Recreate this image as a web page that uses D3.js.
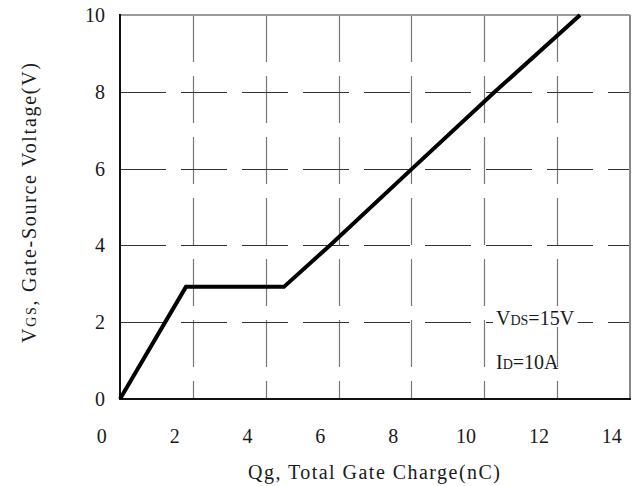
<!DOCTYPE html>
<html lang="en">
<head>
<meta charset="UTF-8">
<title>Gate Charge</title>
<script src="https://d3js.org/d3.v7.min.js"></script>
<style>
  body { margin: 0; background: #fff; }
  text { font-family: "Liberation Serif", "Times New Roman", serif; fill: #1a1a1a; }
</style>
</head>
<body>
<svg width="633" height="486"></svg>
<script>
// gate charge curve, Qg (nC) vs VGS (V)
let qg  = [0.5, 2.31, 5.0, 6.26, 8.52, 10.79, 13.13];
let vgs = [0,   2.92, 2.92, 4,   6,    8,     10];
let xTicks = [0, 2, 4, 6, 8, 10, 12, 14];
let yTicks = [0, 2, 4, 6, 8, 10];
let xGrid = [2.5, 4.5, 6.5, 8.5, 10.5, 12.5];
let yGrid = [2, 4, 6, 8];

let svg = d3.select("svg");
let x = d3.scaleLinear().domain([0.5, 14.5]).range([120, 630]);
let y = d3.scaleLinear().domain([0, 10]).range([399, 15]);

// dashed grid
svg.append("g").selectAll("line").data(xGrid).enter().append("line")
  .attr("x1", d => Math.round(x(d)) + 0.5).attr("x2", d => Math.round(x(d)) + 0.5)
  .attr("y1", y(10)).attr("y2", y(0))
  .attr("stroke", "#777").attr("stroke-width", 1.2)
  .attr("stroke-dasharray", "47,14");
svg.append("g").selectAll("line").data(yGrid).enter().append("line")
  .attr("x1", x(0.5)).attr("x2", x(14.5))
  .attr("y1", d => Math.round(y(d)) + 0.5).attr("y2", d => Math.round(y(d)) + 0.5)
  .attr("stroke", "#333").attr("stroke-width", 1.1)
  .attr("stroke-dasharray", "46,15");

// frame: top/right grey, left/bottom black
svg.append("line").attr("x1", x(0.5)).attr("x2", x(14.5)).attr("y1", y(10)).attr("y2", y(10))
  .attr("stroke", "#999").attr("stroke-width", 2);
svg.append("line").attr("x1", x(14.5)).attr("x2", x(14.5)).attr("y1", y(10)).attr("y2", y(0))
  .attr("stroke", "#888").attr("stroke-width", 2);
svg.append("line").attr("x1", x(0.5)).attr("x2", x(0.5)).attr("y1", y(10) - 1).attr("y2", y(0) + 1)
  .attr("stroke", "#111").attr("stroke-width", 2);
svg.append("line").attr("x1", x(0.5)).attr("x2", x(14.5) + 1).attr("y1", y(0)).attr("y2", y(0))
  .attr("stroke", "#111").attr("stroke-width", 2);

// annotation with white backing
function note(tx, ty, main, sub, rest, bg) {
  let t = svg.append("text").attr("x", tx).attr("y", ty).style("font-size", "20px");
  t.append("tspan").text(main);
  t.append("tspan").style("font-size", "14px").text(sub);
  t.append("tspan").text(rest);
  if (bg) {
    let b = t.node().getBBox();
    svg.insert("rect", "text").attr("x", b.x - 3).attr("y", b.y + 2)
      .attr("width", b.width + 6).attr("height", b.height - 4).attr("fill", "#fff");
  }
}
note(496, 325, "V", "DS", "=15V", true);
note(496, 369, "I", "D", "=10A", false);

// curve
let pts = qg.map((d, i) => [d, vgs[i]]);
svg.append("path").datum(pts)
  .attr("d", d3.line().x(d => x(d[0])).y(d => y(d[1])))
  .attr("fill", "none").attr("stroke", "#000").attr("stroke-width", 4)
  .attr("stroke-linejoin", "miter");

// tick labels
svg.append("g").selectAll("text").data(xTicks).enter().append("text")
  .attr("x", d => x(d)).attr("y", 443).attr("text-anchor", "middle")
  .style("font-size", "20px").text(d => d);
svg.append("g").selectAll("text").data(yTicks).enter().append("text")
  .attr("x", 105).attr("y", d => y(d) + 7).attr("text-anchor", "end")
  .style("font-size", "20px").text(d => d);

// axis titles
svg.append("text").attr("x", 374).attr("y", 479).attr("text-anchor", "middle")
  .attr("textLength", 252).attr("lengthAdjust", "spacing")
  .style("font-size", "20px").text("Qg, Total Gate Charge(nC)");
let yt = svg.append("text").attr("transform", "translate(36,203) rotate(-90)")
  .attr("text-anchor", "middle").style("font-size", "20px")
  .attr("textLength", 280).attr("lengthAdjust", "spacing");
yt.append("tspan").text("V");
yt.append("tspan").style("font-size", "14px").text("GS");
yt.append("tspan").text(", Gate-Source Voltage(V)");
</script>
</body>
</html>
